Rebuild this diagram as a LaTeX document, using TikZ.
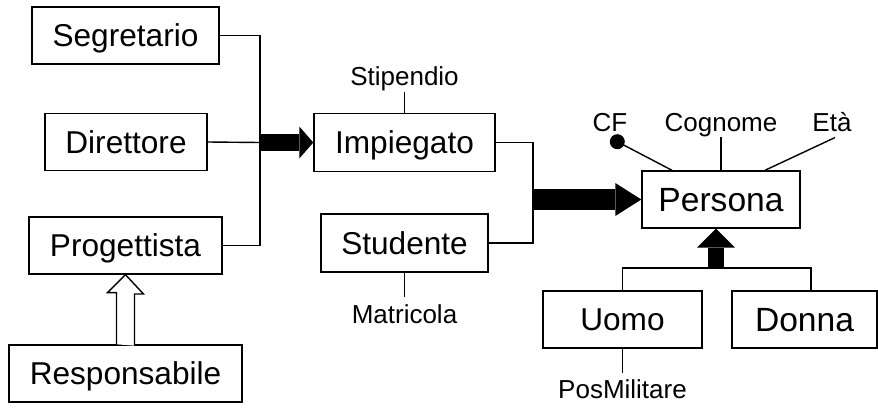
\documentclass[tikz,border=0pt]{standalone}
\usepackage{fontspec}
\setmainfont{Liberation Sans}
\usetikzlibrary{arrows.meta}
\begin{document}
\begin{tikzpicture}[x=0.5pt,y=-0.5pt,
  ent/.style={draw,line width=0.7pt,inner sep=0pt,
    font=\fontsize{15.8pt}{18pt}\selectfont,
    text height=11.3pt,text depth=0pt,minimum height=28.5pt},
  bigent/.style={ent,font=\fontsize{16.8pt}{19pt}\selectfont,text height=12pt},
  attr/.style={inner xsep=1pt,font=\fontsize{13pt}{15pt}\selectfont,anchor=base},
  conn/.style={line width=0.7pt},
  isaarrow/.style={-{Triangle[#1,line width=0pt]}}
]
\useasboundingbox (0,0) rectangle (878,407);

% entities
\node[ent,minimum width=93.5pt] (seg)  at (125.5,35.5)  {Segretario};
\node[ent,minimum width=81pt]   (dir)  at (126,142)     {Direttore};
\node[ent,minimum width=96.5pt] (prog) at (125.5,245.5) {Progettista};
\node[ent,minimum width=116.5pt](resp) at (125.5,373.5) {Responsabile};
\node[ent,minimum width=90.5pt,minimum height=29pt] (imp)  at (404.5,142.5) {Impiegato};
\node[ent,minimum width=83.5pt,minimum height=29pt] (stud) at (404.5,243)   {Studente};
\node[bigent,minimum width=79pt]   (pers)  at (721,199.5)   {Persona};
\node[ent,minimum width=79.5pt]    (uomo)  at (622.5,319.5) {Uomo};
\node[bigent,minimum width=72.5pt] (donna) at (804.5,319.5) {Donna};

% attributes
\node[attr,inner ysep=0.75pt] (stip) at (404.5,85)   {Stipendio};
\node[attr,inner ysep=3.5pt]  (matr) at (404.5,323)  {Matricola};
\node[attr,inner ysep=0pt]    (cf)   at (610,131.7)  {CF};
\node[attr,inner ysep=0pt]    (cog)  at (721,131.7)  {Cognome};
\node[attr,inner ysep=2.6pt]  (eta)  at (832,131.7)  {Età};
\node[attr,inner ysep=3pt]    (posm) at (622.5,398)  {PosMilitare};
\node[circle,fill,inner sep=0pt,minimum size=7.5pt] (cfd) at (617.3,141.7) {};

\draw[conn] (stip.south) -- (imp.north);
\draw[conn] (stud.south) -- (matr.north);
\draw[conn] (uomo.south) -- (posm.north);
\draw[conn] (cfd.center) -- ([xshift=-24.5pt]pers.north);
\draw[conn] (cog.south) -- (pers.north);
\draw[conn] ([xshift=1.5pt]eta.south) -- ([xshift=22pt]pers.north);

% first hierarchy
\coordinate (j1) at (260,142.5);
\draw[conn] (seg.east) -| (j1);
\draw[conn] (prog.east) -| (j1);
\draw[conn] (dir.east) -- (j1);
\draw[line width=8.5pt,isaarrow={length=7pt,width=16pt}] (j1) -- (imp.west);

% Responsabile -> Progettista (hollow)
\draw[conn,fill=white] (resp.north) ++(-9,0) -- ++(0,-51.7) -- ++(-9,0)
  -- (prog.south) -- ++(18,19.3) -- ++(-9,0) -- ++(0,51.7);

% second hierarchy
\coordinate (j2) at (533,199.5);
\draw[conn] (imp.east) -| (j2);
\draw[conn] (stud.east) -| (j2);
\draw[line width=10.5pt,isaarrow={length=13pt,width=16.5pt}] (j2) -- (pers.west);

% third hierarchy
\coordinate (j3) at (716,268);
\coordinate (dn) at (811,291);
\draw[conn] (uomo.north) |- (dn |- j3) -- (dn);
\draw[line width=7.8pt,isaarrow={length=9.5pt,width=19pt}] (j3) -- (j3 |- pers.south);
\end{tikzpicture}
\end{document}
